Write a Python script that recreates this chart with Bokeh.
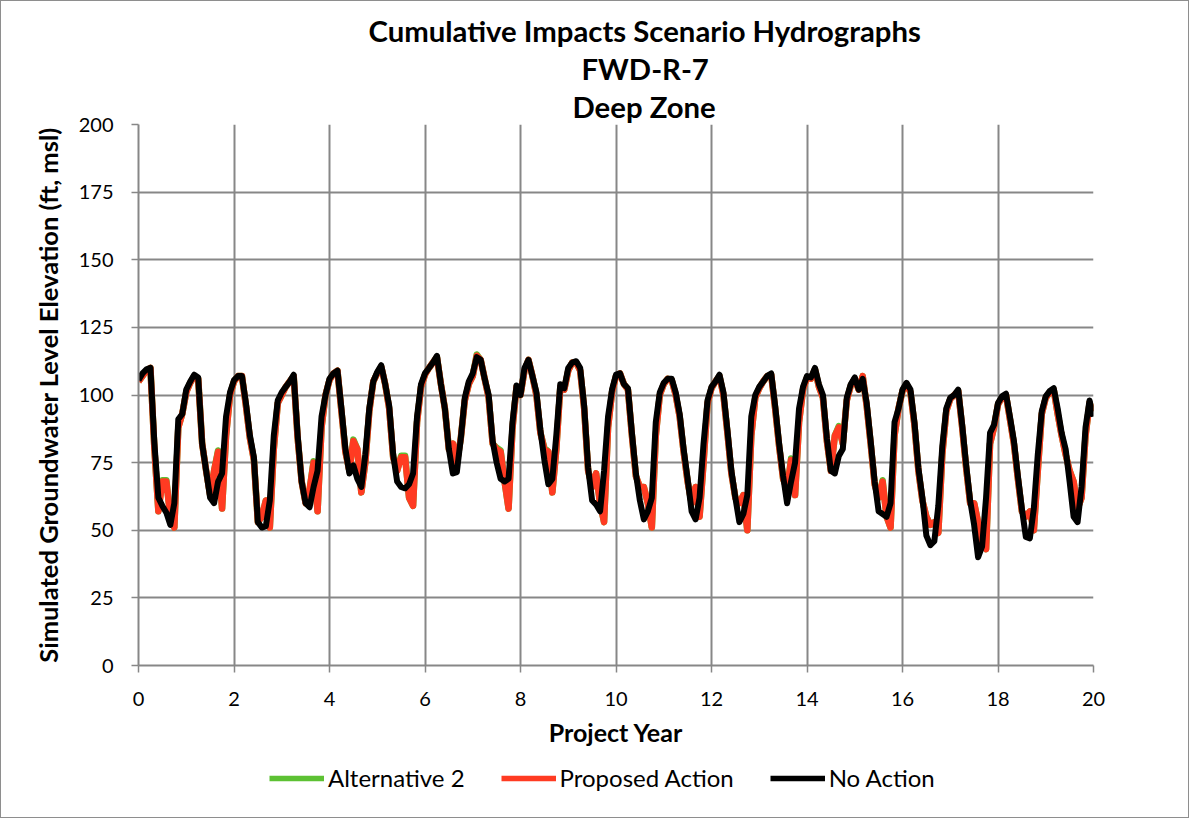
import numpy as np
from bokeh.plotting import figure
from bokeh.layouts import column
from bokeh.models import Range1d, FixedTicker, Title, Legend, LegendItem
from bokeh.embed import file_html
from bokeh.resources import INLINE

# ---------------- data (monthly, project years 0-20) ----------------
month = np.arange(241)
project_year = month / 12.0

no_action = [
    105.5, 108, 109.5, 110, 82, 62, 59, 56.5, 52, 60, 91, 93,
    102, 105, 107.5, 106.5, 82, 72, 62, 60, 68, 71, 92, 101,
    105.5, 107, 107, 97, 85, 77, 53, 51, 51.5, 61, 85, 98,
    101, 103, 105, 107.5, 85, 68, 60, 58.5, 66, 72, 92, 100,
    106, 108, 109, 95, 80, 71, 74, 69, 66, 78, 95, 105,
    108.5, 111, 104, 96, 78, 68, 66, 65.5, 67, 71, 92, 104,
    108, 110, 112, 114.5, 104, 95, 80, 71, 71.5, 84, 99, 105,
    108, 114, 113, 106, 100, 83, 75, 69, 68, 69, 90, 103.5,
    100, 110, 113, 107, 101, 87, 76, 67, 69, 85, 104, 102.5,
    110, 112, 112.5, 110, 96, 73, 61, 59.5, 57, 72, 92, 102,
    107.5, 108, 104, 102.5, 86, 71, 61, 54, 57, 62, 90, 101,
    104.5, 106, 106, 101, 93, 80, 69, 57, 54, 62, 82, 98,
    103, 105, 107.5, 101, 87, 72, 62, 53, 56, 63, 92, 100,
    103, 105, 107, 108, 96, 82, 70, 60, 68, 75, 95, 103,
    107, 106.5, 110, 104, 100, 84, 72, 71, 77.5, 80, 99, 104,
    106.5, 102, 106, 97, 83, 68, 57, 56, 55, 60, 90, 95,
    102, 104.5, 102, 90, 73, 62, 48, 44.5, 46, 59, 81, 95,
    99, 100, 102, 89, 74, 61, 52, 40, 44, 62, 86, 89,
    97, 99.5, 100.5, 92, 83, 70, 58, 47.5, 47, 58, 78, 94,
    99.5, 101.5, 102.5, 95, 86, 80, 68, 55, 53, 66, 88, 98,
    92,
]

proposed_action = [
    105, 107, 109, 110, 80, 57, 68, 68, 55, 51, 88, 93,
    101, 104.5, 107, 106, 82, 72, 63, 72, 79, 58, 85, 100,
    105, 107, 107, 96, 84, 76, 53, 55, 61, 51, 80, 97,
    100, 103, 105, 107, 84, 68, 60, 65, 75, 57, 88, 100,
    105.5, 108, 109, 94, 79, 72, 83, 80, 64, 75, 94, 105,
    108, 110.5, 104, 95, 77, 72, 77, 77, 62, 59, 90, 103,
    107.5, 110, 112, 114, 104, 95, 80, 82, 75, 84, 98, 104,
    107, 114.5, 113, 106, 99, 82, 80, 79, 68, 58, 88, 103,
    100, 109, 113, 107, 100, 86, 80, 79, 64, 80, 103, 102,
    109, 112, 112, 109, 95, 72, 66, 71, 60, 53, 88, 101,
    107, 108, 104, 102, 85, 70, 66, 66, 60, 51, 85, 100,
    104, 106, 105.5, 100, 92, 79, 68, 60, 66, 55, 75, 97,
    102.5, 105, 107, 100, 86, 71, 62, 60, 63, 50, 85, 99,
    102.5, 105, 107, 107.5, 95, 81, 69, 65, 76, 63, 90, 102,
    106.5, 106, 109.5, 103, 99, 83, 72, 85, 88, 82, 98, 103.5,
    106, 102, 107, 96, 82, 67, 62, 68, 55, 51, 85, 95,
    101.5, 104, 101, 89, 72, 61, 55, 52, 53, 49, 78, 94,
    98.5, 100, 101.5, 88, 73, 60, 60, 53, 45, 43, 82, 88,
    96.5, 99, 100, 91, 82, 69, 57, 55, 57, 50, 72, 93,
    99, 101, 102, 93, 85, 78, 72, 68, 58, 62, 85, 97,
    94,
]

alternative_2 = [
    105, 107, 109, 110, 80, 57, 68.5, 68.5, 55, 51, 88, 93,
    101, 104.5, 107, 106, 82, 72, 63, 72, 79.5, 58, 85, 100,
    105, 107, 107, 96, 84, 76, 53, 55, 61, 51, 80, 97,
    100, 103, 105, 107, 84, 68, 60, 65, 75.5, 57, 88, 100,
    105.5, 108, 109, 94, 79, 72, 83.5, 80, 64, 75, 94, 105,
    108, 110.5, 104, 95, 77, 72, 77.5, 77.5, 62, 59, 90, 103,
    107.5, 110, 112, 114, 104, 95, 80, 82, 75, 84, 98, 104,
    107, 115, 113, 106, 99, 82, 80.5, 79.5, 68, 58, 88, 103,
    100, 109, 113, 107, 100, 86, 80.5, 79, 64, 80, 103, 102,
    109, 112, 112, 109, 95, 72, 66, 71, 60, 53, 88, 101,
    107, 108, 104, 102, 85, 70, 66, 66, 60, 51, 85, 100,
    104, 106, 105.5, 100, 92, 79, 68, 60, 66, 55, 75, 97,
    102.5, 105, 107, 100, 86, 71, 62, 60, 63, 50, 85, 99,
    102.5, 105, 107, 107.5, 95, 81, 69, 65, 76.5, 63, 90, 102,
    106.5, 106, 109.5, 103, 99, 83, 72, 85, 88.5, 82, 98, 103.5,
    106, 102, 107, 96, 82, 67, 62, 68.5, 55, 51, 85, 95,
    101.5, 104, 101, 89, 72, 61, 55, 52, 53, 49, 78, 94,
    98.5, 100, 101.5, 88, 73, 60, 60, 53, 45, 43, 82, 88,
    96.5, 99, 100, 91, 82, 69, 57, 55, 57, 50, 72, 93,
    99, 101, 102, 93, 85, 78, 72, 68, 58, 62, 85, 97,
    94,
]

x_ticks = [0, 2, 4, 6, 8, 10, 12, 14, 16, 18, 20]
y_ticks = [0, 25, 50, 75, 100, 125, 150, 175, 200]
title_lines = ["Cumulative Impacts Scenario Hydrographs", "FWD-R-7", "Deep Zone"]
series_names = ["Alternative 2", "Proposed Action", "No Action"]

# ---------------- styling ----------------
FONT = "Lato"
GRID = "#878787"
COLORS = ["#5DC133", "#FF3B22", "#000000"]
W = 1187
H_MAIN, H_LEG = 756, 60

p = figure(width=W, height=H_MAIN, output_backend="svg", toolbar_location=None,
           x_range=Range1d(0, 20), y_range=Range1d(0, 200),
           min_border_left=137, min_border_right=95,
           min_border_top=123, min_border_bottom=H_MAIN - 664,
           background_fill_color="white", border_fill_color="white")
p.outline_line_color = None

for g, t in ((p.xgrid, x_ticks), (p.ygrid, y_ticks)):
    g.ticker = FixedTicker(ticks=t)
    g.grid_line_color = GRID
    g.grid_line_width = 2

p.xaxis.ticker = FixedTicker(ticks=x_ticks)
p.yaxis.ticker = FixedTicker(ticks=y_ticks)
for ax in (p.xaxis[0], p.yaxis[0]):
    ax.axis_line_color = GRID
    ax.axis_line_width = 2
    ax.major_tick_line_color = GRID
    ax.major_tick_line_width = 1.5
    ax.major_tick_out = 7
    ax.major_tick_in = 0
    ax.minor_tick_out = 0
    ax.minor_tick_in = 0
    ax.major_label_text_font = FONT
    ax.major_label_text_font_size = "20px"
    ax.major_label_text_color = "black"
    ax.axis_label_text_font = FONT
    ax.axis_label_text_font_style = "bold"
    ax.axis_label_text_color = "black"

p.xaxis.axis_label_text_font_size = "25px"
p.yaxis.axis_label_text_font_size = "25.5px"
p.xaxis.major_label_standoff = 19
p.yaxis.major_label_standoff = 18
p.xaxis.axis_label = "Project Year"
p.xaxis.axis_label_standoff = 8
p.yaxis.axis_label = "Simulated Groundwater Level Elevation (ft, msl)"
p.yaxis.axis_label_standoff = 13

series = [alternative_2, proposed_action, no_action]
widths = [6.5, 6.5, 6]
for vals, col, lw in zip(series, COLORS, widths):
    p.line(project_year, vals, color=col, line_width=lw, line_join="round")

# title lines: added innermost first, so the first line ends on top
p.title.text = ""
for txt, off in zip(reversed(title_lines), [434, 443, 230]):
    p.add_layout(Title(text=txt, align="left", offset=off, standoff=1,
                       text_font=FONT, text_font_size="29.3px", text_font_style="bold",
                       text_color="black", text_line_height=1.0), "above")

# ---------------- legend strip (separate figure so nothing is clipped) ----------------
# the same series are drawn here, but the strip's y-range (0-1) lies far below
# every value, so only the legend entries are visible
leg_fig = figure(width=W, height=H_LEG, output_backend="svg", toolbar_location=None,
                 x_range=Range1d(0, 1), y_range=Range1d(0, 1),
                 x_axis_location=None, y_axis_location=None,
                 min_border=0, border_fill_color="white", background_fill_color="white")
leg_fig.outline_line_color = None
leg_fig.xgrid.visible = False
leg_fig.ygrid.visible = False
leg_renderers = [leg_fig.line(project_year, vals, color=c, line_width=5.5)
                 for vals, c in zip(series, COLORS)]

legend = Legend(items=[LegendItem(label=n, renderers=[r])
                       for n, r in zip(series_names, leg_renderers)],
                location=(131, 25), orientation="horizontal",
                padding=0, margin=0, spacing=36, glyph_width=55, glyph_height=28,
                label_standoff=4, label_height=28,
                background_fill_alpha=0, border_line_color=None,
                label_text_font=FONT, label_text_font_size="24px",
                label_text_color="black")
leg_fig.add_layout(legend)

layout = column(p, leg_fig, spacing=0)
layout.styles = {"border": "1px solid #8E8E8E"}

open("out.html", "w").write(file_html(layout, INLINE))
